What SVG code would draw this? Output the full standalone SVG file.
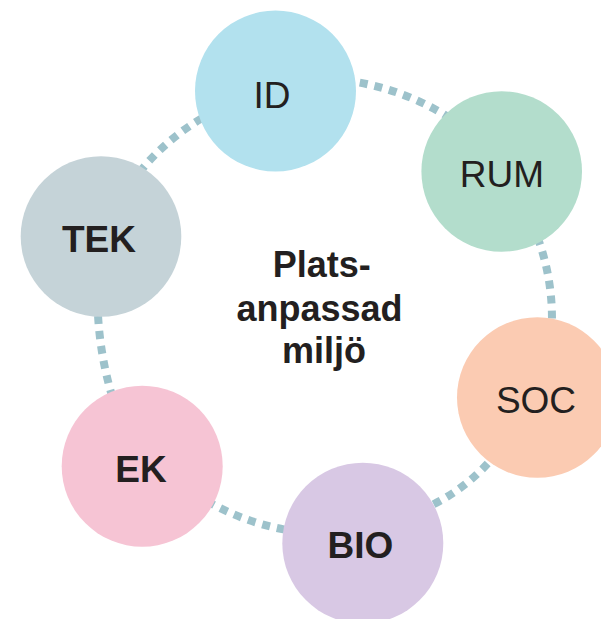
<svg xmlns="http://www.w3.org/2000/svg" width="601" height="619" viewBox="0 0 601 619">
<style>
.link{fill:none;stroke:#9DC2CB;stroke-width:8;stroke-dasharray:8 7}
.lbl{font-family:"Liberation Sans","Open Sans",Arial,sans-serif;font-size:37px;fill:#231F20;text-anchor:middle}
.b{font-weight:bold}
.ctr{font-family:"Liberation Sans","Open Sans",Arial,sans-serif;font-size:36px;font-weight:bold;fill:#231F20;text-anchor:middle}
</style>
<rect width="601" height="619" fill="#ffffff"/>
<g id="connectors">
<path class="link" d="M330,79 A255,255 0 0 1 487.5,147"/>
<path class="link" d="M500.5,172.3 A232,232 0 0 1 538,397.3"/>
<path class="link" d="M530.6,385.4 A187,187 0 0 1 366.3,523.3"/>
<path class="link" d="M329.4,533.7 A246,246 0 0 1 161.9,467.9"/>
<path class="link" d="M141.8,466.5 A350,350 0 0 1 102.5,237.1"/>
<path class="link" d="M102.5,237.1 A232,232 0 0 1 275.3,90.3"/>
</g>
<g id="node-id"><circle cx="275.5" cy="91" r="80.5" fill="#B2E1EE"/><text class="lbl" x="272" y="108.3">ID</text></g>
<g id="node-rum"><circle cx="501.7" cy="171.5" r="80.3" fill="#B3DDCC"/><text class="lbl" x="502" y="187.3">RUM</text></g>
<g id="node-soc"><circle cx="537.3" cy="397.5" r="80.3" fill="#FBCBB2"/><text class="lbl" x="536" y="413.3">SOC</text></g>
<g id="node-bio"><circle cx="362.8" cy="543.2" r="80.5" fill="#D8C8E4"/><text class="lbl b" x="360.5" y="557.7">BIO</text></g>
<g id="node-ek"><circle cx="142.2" cy="466.2" r="80.5" fill="#F6C4D4"/><text class="lbl b" x="141" y="481.7">EK</text></g>
<g id="node-tek"><circle cx="101" cy="236.5" r="80.3" fill="#C5D3D8"/><text class="lbl b" x="99" y="251.7">TEK</text></g>
<g id="center-label">
<text class="ctr" x="321.7" y="276.7">Plats-</text>
<text class="ctr" x="319.5" y="321">anpassad</text>
<text class="ctr" x="324" y="362.7">miljö</text>
</g>
</svg>
